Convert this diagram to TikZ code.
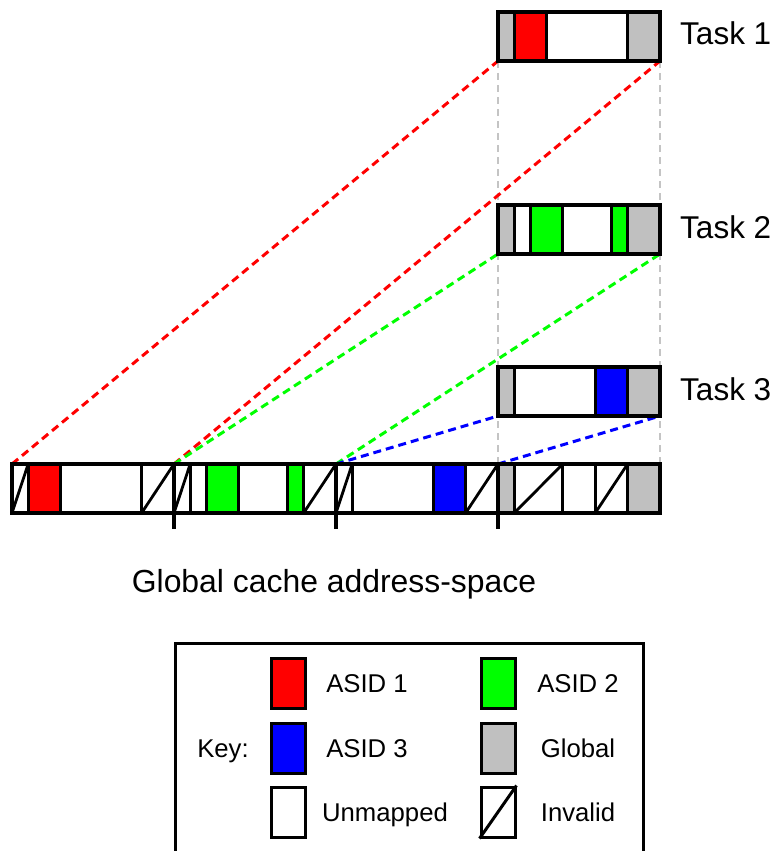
\documentclass[tikz,border=0pt]{standalone}
\usepackage{fontspec}
\setmainfont{Liberation Sans}
\definecolor{asidred}{HTML}{FF0000}
\definecolor{asidgreen}{HTML}{00FF00}
\definecolor{asidblue}{HTML}{0000FF}
\definecolor{globalgray}{HTML}{C0C0C0}
\definecolor{guidegray}{HTML}{C4C4C4}
\tikzset{
  barframe/.style={minimum width=162pt, minimum height=49pt, inner sep=0pt, outer sep=0pt, anchor=north west},
  gbarframe/.style={minimum width=648pt, minimum height=49pt, inner sep=0pt, outer sep=0pt, anchor=north west},
  outline/.style={line width=3.3pt},
  cellline/.style={line width=2.8pt},
  guide/.style={guidegray, line width=2.5pt, dash pattern=on 7pt off 5pt},
  mapline/.style={line width=3pt, dash pattern=on 8pt off 5pt},
  tasklabel/.style={anchor=base west, inner sep=0pt, font=\fontsize{31.5}{36}\selectfont},
  keylabel/.style={font=\fontsize{25.7}{30}\selectfont, text height=18.4pt, text depth=0pt, inner sep=0pt},
  swatch/.style={draw, line width=3pt, minimum width=34pt, minimum height=50pt, inner sep=0pt}
}
% cell unit of the address-space bars
\def\u{16.2}
\begin{document}
\begin{tikzpicture}[x=1pt, y=-1pt]
\useasboundingbox (0,0) rectangle (776,851);

% bar frames (task pages and the global address-space)
\node[barframe] (t1) at (498,12) {};
\node[barframe] (t2) at (498,205) {};
\node[barframe] (t3) at (498,367) {};
\node[gbarframe] (g) at (12,464) {};
\coordinate (p1) at (174,464);
\coordinate (p2) at (336,464);
\coordinate (p3) at (498,464);

% vertical guides under the task pages
\draw[guide] (t1.south west) -- (p3);
\draw[guide] (t1.south east) -- (g.north east);

% mapping of each task page into the global space
\draw[mapline, asidred] (g.north west) -- (t1.south west);
\draw[mapline, asidred] (p1) -- (t1.south east);
\draw[mapline, asidgreen] (p1) -- (t2.south west);
\draw[mapline, asidgreen] (p2) -- (t2.south east);
\draw[mapline, asidblue] (p2) -- (t3.south west);
\draw[mapline, asidblue] (p3) -- (t3.south east);

% global address-space cells
\foreach \a/\b/\c in {0/1/white,1/3/asidred,3/8/white,8/10/white,
  10/11/white,11/12/white,12/14/asidgreen,14/17/white,17/18/asidgreen,18/20/white,
  20/21/white,21/26/white,26/28/asidblue,28/30/white,
  30/31/globalgray,31/34/white,34/36/white,36/38/white,38/40/globalgray}
  \draw[cellline, fill=\c] ({12+\u*\a},464) rectangle ({12+\u*\b},513);
% invalid cells
\foreach \a/\b in {0/1,8/10,10/11,18/20,20/21,28/30,31/34,36/38}
  \draw[cellline] ({12+\u*\a},513) -- ({12+\u*\b},464);
\draw[outline] (g.north west) rectangle (g.south east);
% page boundaries
\foreach \p in {p1,p2,p3}
  \draw[outline] (\p) -- ++(0,65);

% task pages
\foreach \a/\b/\c in {0/1/globalgray,1/3/asidred,3/8/white,8/10/globalgray}
  \draw[cellline, fill=\c] ({498+\u*\a},12) rectangle ({498+\u*\b},61);
\draw[outline] (t1.north west) rectangle (t1.south east);

\foreach \a/\b/\c in {0/1/globalgray,1/2/white,2/4/asidgreen,4/7/white,7/8/asidgreen,8/10/globalgray}
  \draw[cellline, fill=\c] ({498+\u*\a},205) rectangle ({498+\u*\b},254);
\draw[outline] (t2.north west) rectangle (t2.south east);

\foreach \a/\b/\c in {0/1/globalgray,1/6/white,6/8/asidblue,8/10/globalgray}
  \draw[cellline, fill=\c] ({498+\u*\a},367) rectangle ({498+\u*\b},416);
\draw[outline] (t3.north west) rectangle (t3.south east);

% labels
\node[tasklabel] (l1) at (680,45) {Task 1};
\node[tasklabel] (l2) at (680,238) {Task 2};
\node[tasklabel] (l3) at (680,400) {Task 3};
\node[anchor=base, font=\fontsize{31.9}{36}\selectfont] (gl) at (334,592) {Global cache address-space};

% key
\draw[line width=3pt] (175,643) rectangle (643,880);
\node[keylabel] (kk) at (223,748) {Key:};
\node[swatch, fill=asidred] (s1) at (288,683) {};
\node[swatch, fill=asidblue] (s3) at (288,748) {};
\node[swatch, fill=white] (su) at (288,812) {};
\node[swatch, fill=asidgreen] (s2) at (498,683) {};
\node[swatch, fill=globalgray] (sg) at (498,748) {};
\node[swatch, fill=white] (si) at (498,812) {};
\draw[line width=3pt] (si.south west) -- (si.north east);
\node[keylabel] (k1) at (367,683) {ASID 1};
\node[keylabel] (k3) at (367,748) {ASID 3};
\node[keylabel] (ku) at (385,812) {Unmapped};
\node[keylabel] (k2) at (578,683) {ASID 2};
\node[keylabel] (kg) at (578,748) {Global};
\node[keylabel] (ki) at (578,812) {Invalid};
\end{tikzpicture}
\end{document}
